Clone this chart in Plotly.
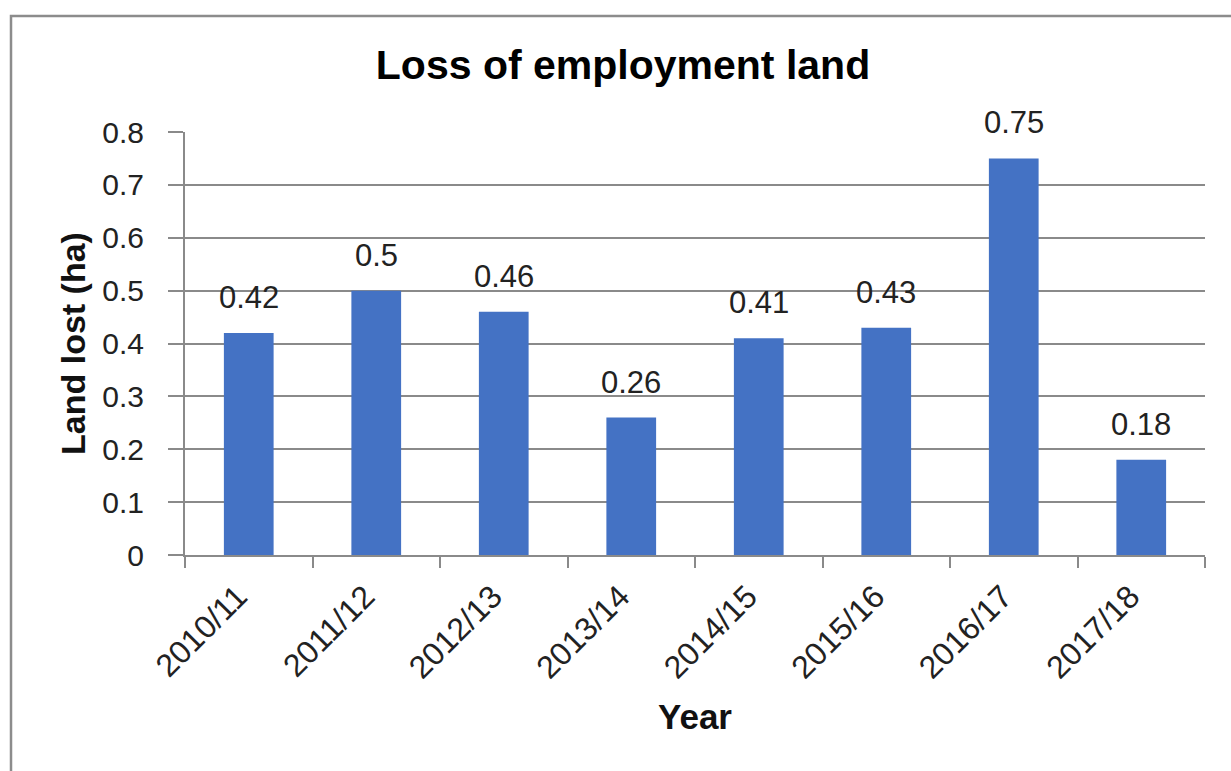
import plotly.graph_objects as go

# Employment land lost per financial year (hectares)
years = ["2010/11", "2011/12", "2012/13", "2013/14", "2014/15", "2015/16", "2016/17", "2017/18"]
land_lost = [0.42, 0.5, 0.46, 0.26, 0.41, 0.43, 0.75, 0.18]
y_ticks = [0, 0.1, 0.2, 0.3, 0.4, 0.5, 0.6, 0.7, 0.8]
y_tick_text = ["0", "0.1", "0.2", "0.3", "0.4", "0.5", "0.6", "0.7", "0.8"]

FONT = "Liberation Sans, Arial, sans-serif"
GRID = "#8a8a8a"
BAR = "#4472C4"

W, H = 1231, 771
L, R, T, B = 185, 26, 132, 216

fig = go.Figure()
fig.add_trace(go.Bar(
    x=years,
    y=land_lost,
    marker=dict(color=BAR, line=dict(width=0)),
    hoverinfo="x+y",
))

# value labels above each bar
for yr, v in zip(years, land_lost):
    fig.add_annotation(
        x=yr, y=v, text=f"{v:g}", showarrow=False,
        yanchor="bottom", yshift=16,
        font=dict(family=FONT, size=31, color="#222222"),
    )

plot_w = W - L - R
plot_h = H - T - B

# outer chart frame (runs past the right and bottom edges of the page)
fig.add_shape(
    type="rect", xref="paper", yref="paper",
    x0=(11 - L) / plot_w, x1=(W + 20 - L) / plot_w,
    y0=(H - B - (H + 20)) / plot_h, y1=(H - B - 16) / plot_h,
    line=dict(color="#8c8c8c", width=2.5), fillcolor="rgba(0,0,0,0)",
    layer="below",
)

fig.update_layout(
    width=W, height=H,
    margin=dict(l=L, r=R, t=T, b=B, pad=0),
    paper_bgcolor="white", plot_bgcolor="white",
    bargap=0.61,
    showlegend=False,
    title=dict(
        text="<b>Loss of employment land</b>",
        x=623 / W, xanchor="center",
        y=1 - 65 / H, yanchor="middle",
        font=dict(family=FONT, size=41, color="#000000"),
    ),
    font=dict(family=FONT, color="#222222"),
)

fig.update_xaxes(
    type="category",
    showline=True, linecolor=GRID, linewidth=2,
    ticks="outside", tickson="boundaries", ticklen=11, tickwidth=2, tickcolor=GRID,
    tickangle=-45,
    ticklabelstandoff=8,
    ticklabelshift=-11,
    tickfont=dict(family=FONT, size=32, color="#222222"),
    showgrid=False,
    title=dict(text="<b>Year</b>", font=dict(family=FONT, size=35, color="#111111"), standoff=20),
)

fig.update_yaxes(
    range=[0, 0.8],
    tickvals=y_ticks, ticktext=y_tick_text,
    showline=True, linecolor=GRID, linewidth=2,
    ticks="outside", ticklen=15, tickwidth=2, tickcolor=GRID,
    ticklabelstandoff=18,
    tickfont=dict(family=FONT, size=30, color="#222222"),
    showgrid=True, gridcolor=GRID, gridwidth=2,
    zeroline=False,
    title=dict(text="<b>Land lost (ha)</b>", font=dict(family=FONT, size=34, color="#111111"), standoff=6),
)

fig.write_html("out.html")
